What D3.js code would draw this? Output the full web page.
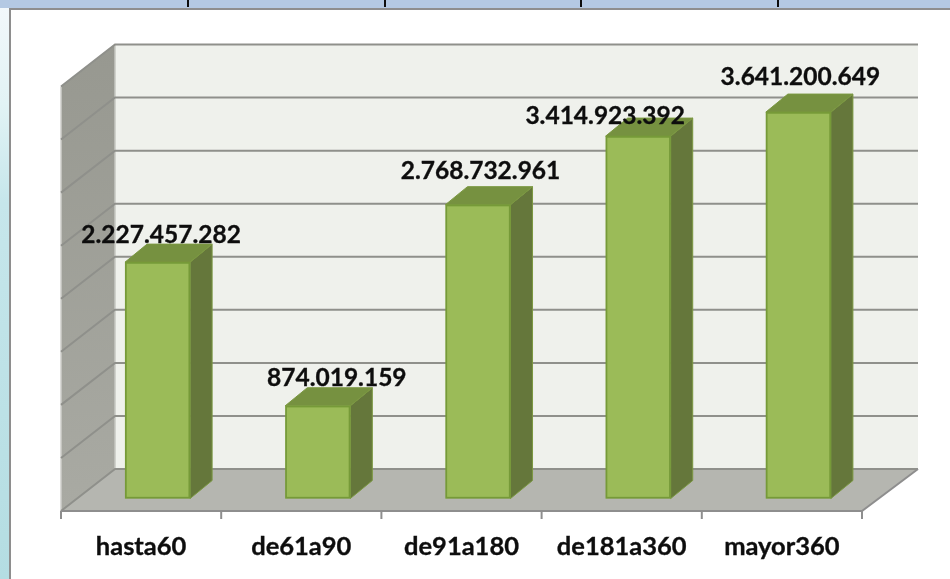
<!DOCTYPE html>
<html>
<head>
<meta charset="utf-8">
<script src="https://cdn.jsdelivr.net/npm/d3@7"></script>
<style>
  html, body { margin: 0; padding: 0; background: #fff; }
  svg { display: block; }
  text { font-family: Lato, "Open Sans", sans-serif; font-weight: 700; fill: #111; stroke: #111; stroke-width: 0.35px; }
</style>
</head>
<body>
<svg id="chart" width="950" height="579"></svg>
<script>
const categories = ['hasta60', 'de61a90', 'de91a180', 'de181a360', 'mayor360'];
const values = [2227457282, 874019159, 2768732961, 3414923392, 3641200649];
const valueLabels = ['2.227.457.282', '874.019.159', '2.768.732.961', '3.414.923.392', '3.641.200.649'];
const gridTicks = [0, 500000000, 1000000000, 1500000000, 2000000000, 2500000000, 3000000000, 3500000000, 4000000000];

// hand placed data labels, excel moved some of them around
const labelNudge = [[3.5, -19], [19, -20], [2.5, -26], [-33, -12], [2, -27]];

const svg = d3.select('#chart');

// 3d box: front plane of the floor + how far back the wall sits
const left = 61, right = 862, floorY = 511, topY = 86.5;
const depthX = 54, depthY = 42;
const barDepthX = 22, barDepthY = 18;
const barShiftX = 16.5, barShiftY = 12.5;

const x = d3.scaleBand().domain(categories).range([left, right]).paddingInner(0.594).paddingOuter(0.297);
const y = d3.scaleLinear().domain([0, 4000000000]).range([floorY, topY]);

const defs = svg.append('defs');

const sideGrad = defs.append('linearGradient').attr('id', 'sideGrad').attr('x1', 0).attr('x2', 0).attr('y1', 0).attr('y2', 1);
sideGrad.append('stop').attr('offset', '0%').attr('stop-color', '#979890');
sideGrad.append('stop').attr('offset', '100%').attr('stop-color', '#a9aaa3');

const pageGrad = defs.append('linearGradient').attr('id', 'pageGrad').attr('x1', 0).attr('x2', 0).attr('y1', 0).attr('y2', 1);
pageGrad.append('stop').attr('offset', '0%').attr('stop-color', '#f3f8fb');
pageGrad.append('stop').attr('offset', '18%').attr('stop-color', '#e2f3f5');
pageGrad.append('stop').attr('offset', '35%').attr('stop-color', '#c6e6eb');
pageGrad.append('stop').attr('offset', '100%').attr('stop-color', '#b4dde2');

// the reference is a scaled up screenshot, a little softness helps
defs.append('filter').attr('id', 'soft')
  .attr('x', 0).attr('y', 0).attr('width', 1).attr('height', 1)
  .append('feGaussianBlur').attr('stdDeviation', 0.45);

const g = svg.append('g').attr('filter', 'url(#soft)');

g.append('rect').attr('width', 950).attr('height', 579).attr('fill', '#fff');

// bits of the window around the chart
g.append('rect').attr('x', 0).attr('y', 0).attr('width', 9).attr('height', 579).attr('fill', 'url(#pageGrad)');
g.append('rect').attr('x', 0).attr('y', 0).attr('width', 950).attr('height', 8).attr('fill', '#b4c9e3');
g.append('rect').attr('x', 9).attr('y', 8).attr('width', 941).attr('height', 2).attr('fill', '#8e8e8e');
g.append('rect').attr('x', 9).attr('y', 8).attr('width', 2).attr('height', 571).attr('fill', '#8e8e8e');
[188, 385, 581, 778].forEach(px => {
  g.append('rect').attr('x', px - 1).attr('y', 0).attr('width', 2).attr('height', 7).attr('fill', '#111');
});

const poly = pts => pts.map(p => p.join(',')).join(' ');

// back wall
g.append('polygon')
  .attr('points', poly([[left + depthX, y(4000000000) - depthY], [right + 56, y(4000000000) - depthY], [right + 56, floorY - depthY], [left + depthX, floorY - depthY]]))
  .attr('fill', '#eff1ec');

// side wall
g.append('polygon')
  .attr('points', poly([[left, topY], [left + depthX, topY - depthY], [left + depthX, floorY - depthY], [left, floorY]]))
  .attr('fill', 'url(#sideGrad)');
g.append('line').attr('x1', left).attr('x2', left).attr('y1', topY).attr('y2', floorY).attr('stroke', '#cfcfcb').attr('stroke-width', 1.5);
g.append('line').attr('x1', left + depthX).attr('x2', left + depthX).attr('y1', topY - depthY).attr('y2', floorY - depthY).attr('stroke', '#c6c7c2').attr('stroke-width', 1.5);

// floor
g.append('polygon')
  .attr('points', poly([[left, floorY], [right, floorY], [right + 56, floorY - depthY], [left + depthX, floorY - depthY]]))
  .attr('fill', '#b5b6b0');

// gridlines, along the side wall then along the back
gridTicks.forEach(t => {
  g.append('polyline')
    .attr('points', poly([[left, y(t)], [left + depthX, y(t) - depthY], [right + 56, y(t) - depthY]]))
    .attr('fill', 'none')
    .attr('stroke', '#8f908b')
    .attr('stroke-width', 2);
});

// floor front edge and its right side
g.append('polyline')
  .attr('points', poly([[left, floorY], [right, floorY], [right + 56, floorY - depthY]]))
  .attr('fill', 'none')
  .attr('stroke', '#8e8e8e')
  .attr('stroke-width', 2);

// category ticks sit on the band edges
const step = x.step();
const tickXs = categories.map(c => x(c) - (step - x.bandwidth()) / 2).concat([right]);
tickXs.forEach(tx => {
  g.append('line')
    .attr('x1', tx).attr('x2', tx)
    .attr('y1', floorY).attr('y2', floorY + 8)
    .attr('stroke', '#8e8e8e').attr('stroke-width', 2);
});

// bars
categories.forEach((c, i) => {
  const v = values[i];
  const x0 = x(c) + barShiftX;
  const x1 = x0 + x.bandwidth();
  const yTop = y(v) - barShiftY;
  const yBase = floorY - barShiftY;

  g.append('polygon')
    .attr('points', poly([[x1, yTop], [x1 + barDepthX, yTop - barDepthY], [x1 + barDepthX, yBase - barDepthY], [x1, yBase]]))
    .attr('fill', '#65773a').attr('stroke', '#7b9842').attr('stroke-width', 1);
  g.append('polygon')
    .attr('points', poly([[x0, yTop], [x0 + barDepthX, yTop - barDepthY], [x1 + barDepthX, yTop - barDepthY], [x1, yTop]]))
    .attr('fill', '#76913f').attr('stroke', '#7b9842').attr('stroke-width', 1);
  g.append('rect')
    .attr('x', x0 + 0.75).attr('y', yTop + 0.75)
    .attr('width', x1 - x0 - 1.5).attr('height', yBase - yTop - 1.5)
    .attr('fill', '#9bbb59').attr('stroke', '#769a38').attr('stroke-width', 1.8);

  g.append('text')
    .attr('x', x0 + x.bandwidth() / 2 + labelNudge[i][0])
    .attr('y', yTop + labelNudge[i][1])
    .attr('text-anchor', 'middle')
    .attr('font-size', 24.5)
    .text(valueLabels[i]);

  g.append('text')
    .attr('x', x(c) + x.bandwidth() / 2)
    .attr('y', 555)
    .attr('text-anchor', 'middle')
    .attr('font-size', 25.5)
    .text(c);
});
</script>
</body>
</html>
